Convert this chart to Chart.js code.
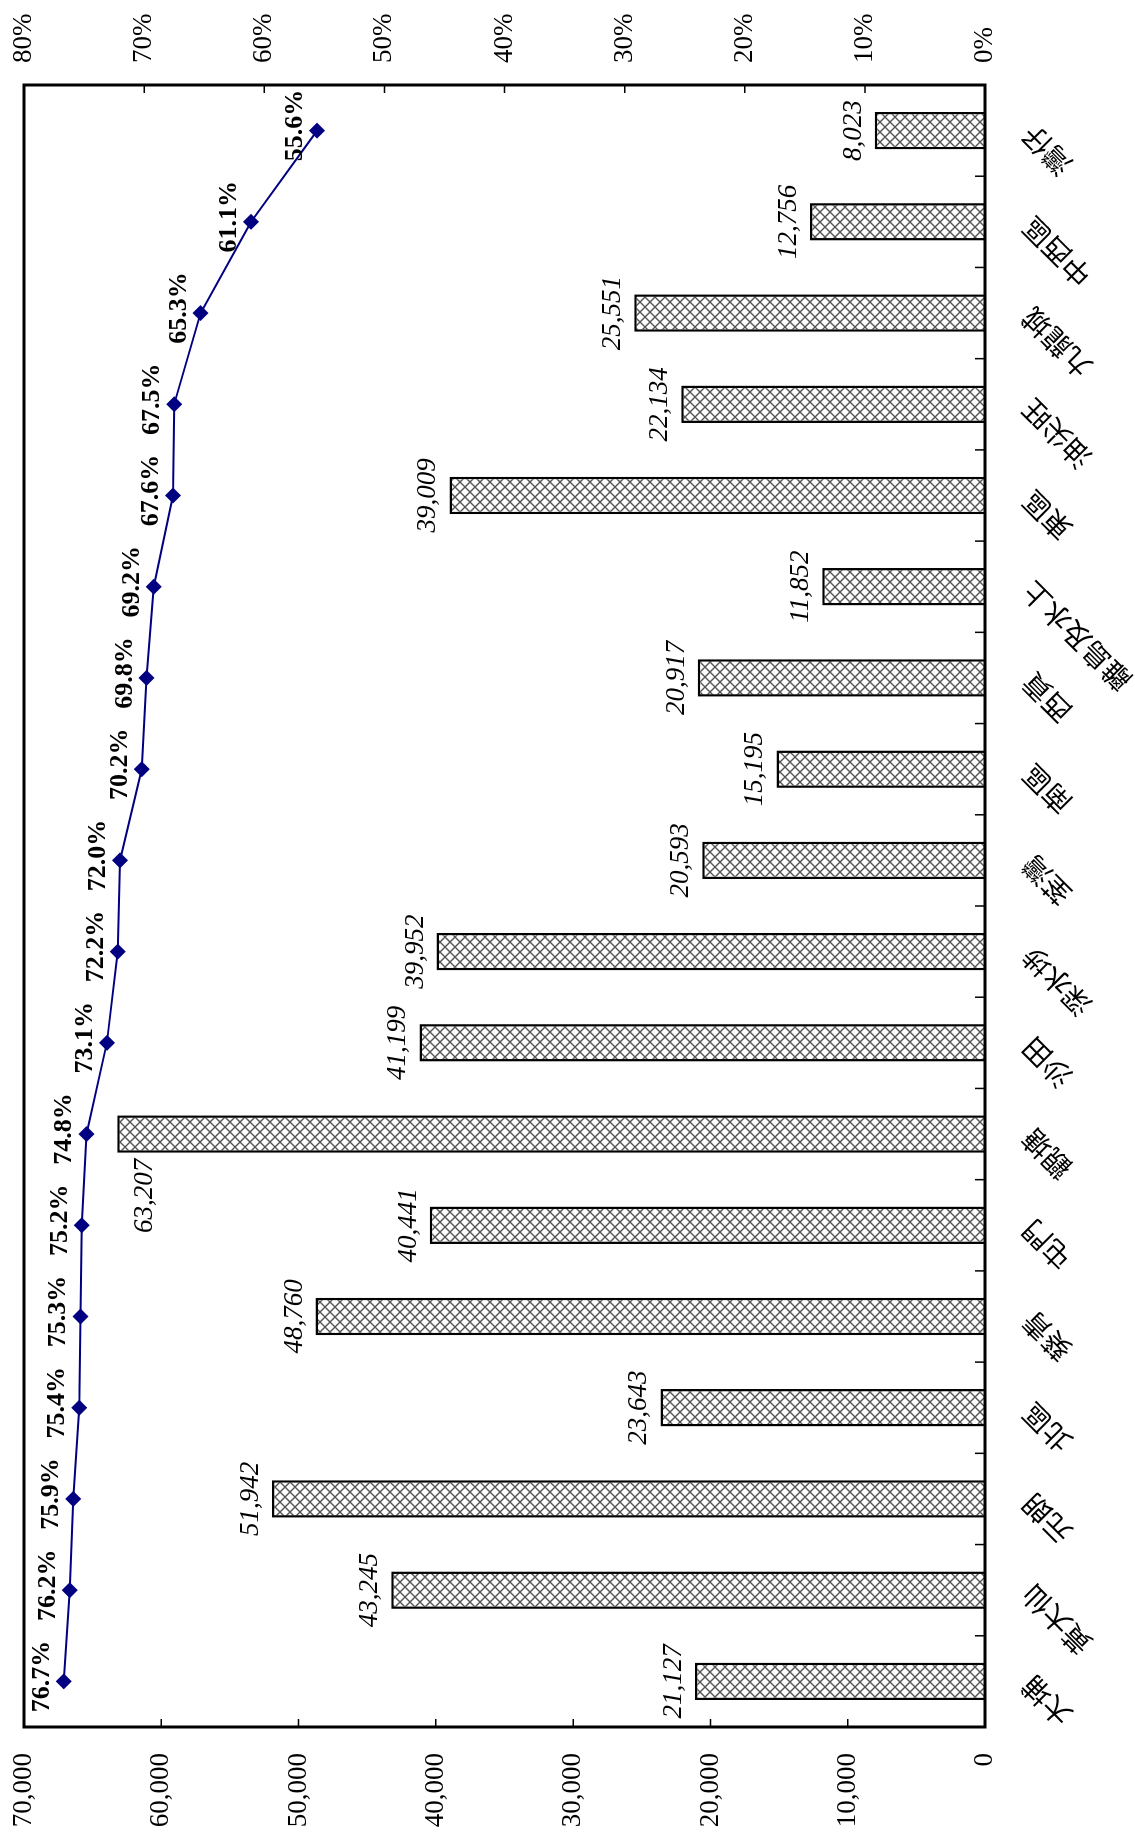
<!DOCTYPE html>
<html>
<head>
<meta charset="utf-8">
<script src="https://cdn.jsdelivr.net/npm/chart.js@4"></script>
<style>
  html, body { margin: 0; padding: 0; background: #fff; overflow: hidden; }
  #wrap {
    position: absolute; left: 0; top: 0;
    width: 1832px; height: 1135px;
    transform-origin: 0 0;
    transform: translateY(1832px) rotate(-90deg);
    background: #fff;
  }
</style>
</head>
<body>
<div id="wrap"><canvas id="chart" width="1832" height="1135"></canvas></div>
<script>
// districts, left to right (bottom to top once the page is turned)
const districts = ['大埔', '黃大仙', '元朗', '北區', '葵青', '屯門', '觀塘', '沙田', '深水埗',
  '荃灣', '南區', '西貢', '離島及水上', '東區', '油尖旺', '九龍城', '中西區', '灣仔'];

// bar values
const counts = [21127, 43245, 51942, 23643, 48760, 40441, 63207, 41199, 39952,
  20593, 15195, 20917, 11852, 39009, 22134, 25551, 12756, 8023];

// line values (%)
const rates = [76.7, 76.2, 75.9, 75.4, 75.3, 75.2, 74.8, 73.1, 72.2,
  72.0, 70.2, 69.8, 69.2, 67.6, 67.5, 65.3, 61.1, 55.6];

const countTicks = [0, 10000, 20000, 30000, 40000, 50000, 60000, 70000];
const rateTicks = [0, 10, 20, 30, 40, 50, 60, 70, 80];

const SERIF = '"Liberation Serif", "Times New Roman", serif';

// crosshatch fill for the bars
function crossHatch() {
    const c = document.createElement('canvas');
    c.width = 10; c.height = 10;
    const g = c.getContext('2d');
    g.fillStyle = '#fff';
    g.fillRect(0, 0, 10, 10);
    g.strokeStyle = '#555';
    g.lineWidth = 1.4;
    g.beginPath();
    g.moveTo(0, 0); g.lineTo(10, 10);
    g.moveTo(10, 0); g.lineTo(0, 10);
    g.stroke();
    return g.createPattern(c, 'repeat');
}

// value labels above bars and points
const valueLabels = {
    id: 'valueLabels',
    afterDatasetsDraw(chart) {
        const ctx = chart.ctx;
        const pts = chart.getDatasetMeta(1).data;
        ctx.save();
        ctx.fillStyle = '#000';
        ctx.textBaseline = 'alphabetic';
        ctx.font = 'italic 27px ' + SERIF;
        chart.getDatasetMeta(0).data.forEach((bar, i) => {
            const txt = counts[i].toLocaleString('en-US');
            const top = bar.y - 14 - 20;
            if (top < pts[i].y + 12) {
                // would run into the line: put it beside the bar
                ctx.textAlign = 'right';
                ctx.fillText(txt, bar.x - bar.width / 2 - 6, bar.y + 35);
            } else {
                ctx.textAlign = 'center';
                ctx.fillText(txt, bar.x, bar.y - 14);
            }
        });
        ctx.textAlign = 'center';
        ctx.font = 'bold 26px ' + SERIF;
        pts.forEach((pt, i) => {
            ctx.fillText(rates[i].toFixed(1) + '%', pt.x + 5, pt.y - 15);
        });
        ctx.restore();
    }
};

// plot frame and inward tick marks
const frame = {
    id: 'frame',
    afterDraw(chart) {
        const ctx = chart.ctx;
        const a = chart.chartArea;
        const x = chart.scales.x, y = chart.scales.y, y1 = chart.scales.y1;
        ctx.save();
        ctx.strokeStyle = '#000';
        ctx.lineWidth = 1.5;
        ctx.beginPath();
        y.ticks.forEach(t => {
            const p = y.getPixelForValue(t.value);
            ctx.moveTo(a.left, p); ctx.lineTo(a.left + 8, p);
        });
        y1.ticks.forEach(t => {
            const p = y1.getPixelForValue(t.value);
            ctx.moveTo(a.right, p); ctx.lineTo(a.right - 8, p);
        });
        for (let i = 1; i < districts.length; i++) {
            const p = x.getPixelForValue(i - 0.5);
            ctx.moveTo(p, a.bottom); ctx.lineTo(p, a.bottom - 10);
        }
        ctx.stroke();
        ctx.lineWidth = 3;
        ctx.strokeRect(a.left, a.top, a.right - a.left, a.bottom - a.top);
        ctx.restore();
    }
};

const ctx = document.getElementById('chart').getContext('2d');

new Chart(ctx, {
    type: 'bar',
    data: {
        labels: districts,
        datasets: [
            {
                type: 'bar',
                data: counts,
                yAxisID: 'y',
                backgroundColor: crossHatch(),
                borderColor: '#000',
                borderWidth: 2.5,
                categoryPercentage: 1,
                barPercentage: 0.41,
                order: 1
            },
            {
                type: 'line',
                data: rates,
                yAxisID: 'y1',
                borderColor: '#000080',
                borderWidth: 2,
                pointStyle: 'rectRot',
                pointRadius: 8,
                pointBackgroundColor: '#000080',
                pointBorderColor: '#000080',
                pointBorderWidth: 0,
                tension: 0,
                order: 0
            }
        ]
    },
    options: {
        responsive: false,
        devicePixelRatio: 1,
        animation: false,
        events: [],
        layout: { padding: { top: 24, left: 0, right: 0, bottom: 0 } },
        plugins: { legend: { display: false }, tooltip: { enabled: false } },
        scales: {
            x: {
                position: 'bottom',
                grid: { display: false, drawTicks: false },
                border: { display: false },
                ticks: {
                    autoSkip: false,
                    minRotation: 45,
                    maxRotation: 45,
                    padding: 30,
                    color: '#000',
                    font: { family: '"Noto Sans CJK TC", sans-serif', size: 28 }
                },
                afterFit(s) { s.height = 150; s.paddingLeft = 0; s.paddingRight = 0; }
            },
            y: {
                position: 'left',
                min: 0,
                max: 70000,
                grid: { display: false, drawTicks: false },
                border: { display: false },
                afterBuildTicks(s) { s.ticks = countTicks.map(v => ({ value: v })); },
                ticks: {
                    padding: 26,
                    color: '#000',
                    font: { family: SERIF, size: 27 },
                    callback: v => v.toLocaleString('en-US')
                },
                afterFit(s) { s.width = 105; s.paddingTop = 0; s.paddingBottom = 0; }
            },
            y1: {
                position: 'right',
                min: 0,
                max: 80,
                grid: { display: false, drawTicks: false },
                border: { display: false },
                afterBuildTicks(s) { s.ticks = rateTicks.map(v => ({ value: v })); },
                ticks: {
                    padding: 22,
                    color: '#000',
                    font: { family: SERIF, size: 27 },
                    callback: v => v + '%'
                },
                afterFit(s) { s.width = 85; s.paddingTop = 0; s.paddingBottom = 0; }
            }
        }
    },
    plugins: [valueLabels, frame]
});
</script>
</body>
</html>
